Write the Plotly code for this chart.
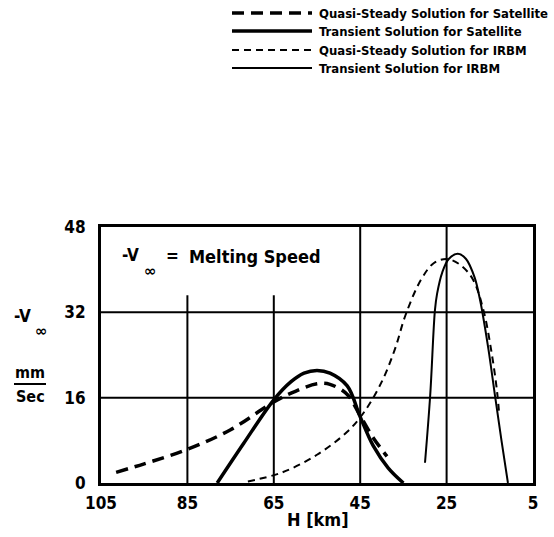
import plotly.graph_objects as go

# ---- data ----
sat_qs_H = [101.5, 95, 85, 75, 65, 60, 55, 52, 48, 45, 42, 38.8]
sat_qs_v = [2.0, 3.6, 6.3, 10.0, 15.2, 17.2, 18.6, 18.5, 16.6, 12.6, 8.5, 5.0]

sat_tr_H = [78.1, 72, 65, 61, 58, 55, 52, 48, 45, 42, 38.5, 35]
sat_tr_v = [0.0, 7.4, 15.6, 19.0, 20.6, 21.1, 20.6, 18.2, 12.4, 7.0, 2.8, 0.0]

irbm_qs_H = [71, 63, 55, 48, 44, 40, 37, 34.5, 31, 28, 25, 22, 19, 16.5, 14.5, 13.3, 12.8]
irbm_qs_v = [0.3, 2.0, 5.3, 9.6, 13.4, 19.0, 25.0, 31.5, 38.0, 41.2, 42.0, 41.0, 38.3, 32.5, 24.0, 17.0, 12.6]

irbm_tr_H = [30.0, 28.8, 27.7, 27.2, 26.0, 24.5, 22.4, 20.5, 18.5, 17.3, 16.8, 15.3, 13.8, 12.3, 10.8]
irbm_tr_v = [3.8, 16.4, 32.4, 35.5, 39.5, 42.0, 43.0, 42.0, 38.5, 34.5, 32.4, 25.0, 16.4, 8.0, 0.0]

x_ticks = [105, 85, 65, 45, 25, 5]
y_ticks = [0, 16, 32, 48]

legend_labels = [
    "Quasi-Steady Solution for Satellite",
    "Transient Solution for Satellite",
    "Quasi-Steady Solution for IRBM",
    "Transient Solution for IRBM",
]

FONT = "DejaVu Sans Condensed, Liberation Sans Narrow, Arial Narrow, sans-serif"

styles = [
    dict(width=3.5, dash="12px,7px"),
    dict(width=3.5, dash="solid"),
    dict(width=2.0, dash="7px,5px"),
    dict(width=2.0, dash="solid"),
]

fig = go.Figure()
series = [(sat_qs_H, sat_qs_v), (sat_tr_H, sat_tr_v), (irbm_qs_H, irbm_qs_v), (irbm_tr_H, irbm_tr_v)]
for (hx, vy), st, name in zip(series, styles, legend_labels):
    fig.add_trace(go.Scatter(x=hx, y=vy, mode="lines", name=name, line_shape="spline",
                             line=dict(color="black", width=st["width"], dash=st["dash"]),
                             showlegend=False, hoverinfo="skip"))

# plot-area geometry
L, R, T, B = 101, 21, 227, 54
W, H = 554, 537
pw, ph = W - L - R, H - T - B

def px(xp):
    return (xp - L) / pw

def py(yp):
    return (H - B - yp) / ph

shapes = []
# grid lines
for xv in [85, 65]:
    shapes.append(dict(type="line", xref="x", yref="y", x0=xv, x1=xv, y0=0, y1=35.2,
                       line=dict(color="black", width=2)))
for xv in [45, 25]:
    shapes.append(dict(type="line", xref="x", yref="y", x0=xv, x1=xv, y0=0, y1=48,
                       line=dict(color="black", width=2)))
for yv in [16, 32]:
    shapes.append(dict(type="line", xref="x", yref="y", x0=105, x1=5, y0=yv, y1=yv,
                       line=dict(color="black", width=2)))

# manual legend
rows_y = [13, 31, 50, 68]
annotations = []
for lbl, st, ry in zip(legend_labels, styles, rows_y):
    shapes.append(dict(type="line", xref="paper", yref="paper", x0=px(232), x1=px(312),
                       y0=py(ry), y1=py(ry),
                       line=dict(color="black", width=st["width"], dash=st["dash"])))
    annotations.append(dict(xref="paper", yref="paper", x=px(317), y=py(ry), text=f"<b>{lbl}</b>",
                            showarrow=False, xanchor="left", yanchor="middle",
                            font=dict(family=FONT, size=13, color="black")))

# in-plot note
annotations += [
    dict(xref="paper", yref="paper", x=px(120), y=py(255), text="<b>-V</b>", showarrow=False,
         xanchor="left", yanchor="middle", font=dict(family=FONT, size=17, color="black")),
    dict(xref="paper", yref="paper", x=px(142), y=py(271), text="<b>∞</b>", showarrow=False,
         xanchor="left", yanchor="middle", font=dict(family="DejaVu Sans", size=15, color="black")),
    dict(xref="paper", yref="paper", x=px(164), y=py(256), text="<b>=</b>", showarrow=False,
         xanchor="left", yanchor="middle", font=dict(family=FONT, size=17, color="black")),
    dict(xref="paper", yref="paper", x=px(187), y=py(256), text="<b>Melting Speed</b>", showarrow=False,
         xanchor="left", yanchor="middle", font=dict(family=FONT, size=18, color="black")),
    # y-axis label
    dict(xref="paper", yref="paper", x=px(12), y=py(316), text="<b>-V</b>", showarrow=False,
         xanchor="left", yanchor="middle", font=dict(family=FONT, size=17, color="black")),
    dict(xref="paper", yref="paper", x=px(33), y=py(331), text="<b>∞</b>", showarrow=False,
         xanchor="left", yanchor="middle", font=dict(family="DejaVu Sans", size=15, color="black")),
    dict(xref="paper", yref="paper", x=px(30), y=py(372), text="<b>mm</b>", showarrow=False,
         xanchor="center", yanchor="middle", font=dict(family=FONT, size=16, color="black")),
    dict(xref="paper", yref="paper", x=px(30), y=py(396), text="<b>Sec</b>", showarrow=False,
         xanchor="center", yanchor="middle", font=dict(family=FONT, size=16, color="black")),
    # x-axis title
    dict(xref="paper", yref="paper", x=px(318), y=py(519), text="<b>H [km]</b>", showarrow=False,
         xanchor="center", yanchor="middle", font=dict(family=FONT, size=18, color="black")),
]
shapes.append(dict(type="line", xref="paper", yref="paper", x0=px(14), x1=px(46),
                   y0=py(384), y1=py(384), line=dict(color="black", width=2)))

fig.update_layout(
    width=W, height=H,
    margin=dict(l=L, r=R, t=T, b=B),
    paper_bgcolor="white", plot_bgcolor="white",
    shapes=shapes, annotations=annotations,
    xaxis=dict(range=[105, 5], tickvals=x_ticks, ticktext=[f"<b>{t}</b>" for t in x_ticks],
               showgrid=False, zeroline=False, showline=True, mirror=True,
               linecolor="black", linewidth=3, ticks="", ticklen=0, ticklabelstandoff=3,
               tickfont=dict(family=FONT, size=17, color="black")),
    yaxis=dict(range=[0, 48], tickvals=y_ticks, ticktext=[f"<b>{t}</b>" for t in y_ticks],
               showgrid=False, zeroline=False, showline=True, mirror=True,
               linecolor="black", linewidth=3, ticks="", ticklen=0, ticklabelstandoff=9,
               tickfont=dict(family=FONT, size=17, color="black")),
    showlegend=False,
)

fig.write_html("out.html")
